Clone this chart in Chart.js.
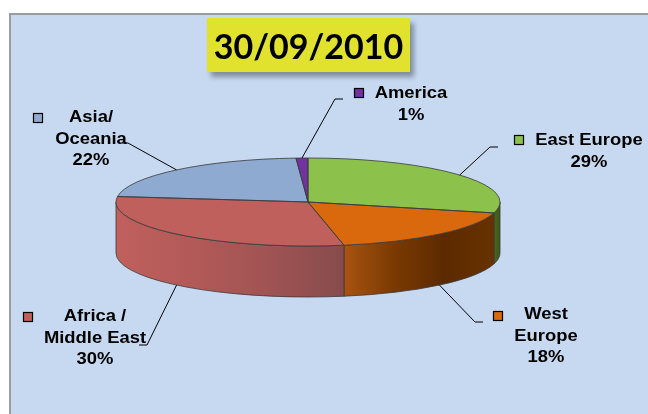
<!DOCTYPE html>
<html>
<head>
<meta charset="utf-8">
<title>30/09/2010</title>
<script src="https://cdn.jsdelivr.net/npm/chart.js@4"></script>
<style>
  body { margin: 0; background: #fff; }
  #wrap { position: relative; width: 648px; height: 414px; overflow: hidden; }
  #panel {
    position: absolute; left: 9px; top: 13px; right: -4px; bottom: -4px;
    background: #c6d9f1; border-left: 2px solid #9c9c9c; border-top: 2px solid #9c9c9c;
  }
  #title {
    position: absolute; left: 207px; top: 18px; width: 203px; height: 54px; z-index: 2;
    background: #e0e22e; box-shadow: 4px 5px 5px rgba(0, 0, 0, .35);
    font: bold 34px Lato, sans-serif; color: #000;
    display: flex; align-items: center; justify-content: center;
  }
  #box { position: absolute; left: 0; top: 0; width: 648px; height: 414px; z-index: 1; }
</style>
</head>
<body>
<div id="wrap">
  <div id="panel"></div>
  <div id="title">30/09/2010</div>
  <div id="box"><canvas id="chart"></canvas></div>
</div>
<script>
// data
const categories = ['East Europe', 'West\nEurope', 'Africa /\nMiddle East', 'Asia/\nOceania', 'America'];
const shares = [29, 18, 30, 22, 1];

// styles
const topColors = ['#8cc24c', '#d9690c', '#c0605d', '#8eaad0', '#7232a0'];
const wallShades = [
    ['#4a6520', '#3f5618'],
    ['#a95310', '#7a3a02', '#5c2a00', '#683200'],
    ['#c0605d', '#b25a58', '#a05453', '#874b4d'],
    ['#6f88ab', '#5b7393'],
    ['#55227a', '#481c68']
];
const TILT = 44 / 192;
const DEPTH = 51;

// label boxes (text centre, key square, leader elbow + end)
const labelSpots = [
    { x: 589, y: 141, key: [519, 140], elbow: [490, 147], end: [498, 147] },
    { x: 546, y: 315, key: [498, 316], elbow: [475, 322], end: [483, 322] },
    { x: 95, y: 317, key: [28, 317], elbow: [147, 345], end: [139, 345] },
    { x: 91, y: 118, key: [38, 118], elbow: [128, 143], end: [122, 143] },
    { x: 411, y: 94, key: [359, 93], elbow: [335, 99], end: [343, 99] }
];

const pie3d = {
    id: 'pie3d',
    beforeDatasetsDraw(chart) {
        const ctx = chart.ctx;
        const arcs = chart.getDatasetMeta(0).data;
        const { x, y, outerRadius: r } = arcs[0];
        const ry = r * TILT;

        // side walls of the front half
        arcs.forEach((arc, i) => {
            const lo = Math.max(arc.startAngle, 0);
            const hi = Math.min(arc.endAngle, Math.PI);
            if (hi <= lo) return;
            const xl = x + r * Math.cos(hi), xr = x + r * Math.cos(lo);
            const g = ctx.createLinearGradient(xl, 0, xr, 0);
            const stops = wallShades[i];
            stops.forEach((c, k) => g.addColorStop(k / (stops.length - 1), c));
            ctx.beginPath();
            ctx.ellipse(x, y, r, ry, 0, lo, hi);
            ctx.ellipse(x, y + DEPTH, r, ry, 0, hi, lo, true);
            ctx.closePath();
            ctx.fillStyle = g;
            ctx.fill();
            ctx.strokeStyle = '#3a3a3a';
            ctx.lineWidth = 0.8;
            ctx.stroke();
        });

        // squash the top face
        ctx.save();
        ctx.translate(x, y);
        ctx.scale(1, TILT);
        ctx.translate(-x, -y);
    },
    afterDatasetsDraw(chart) {
        const ctx = chart.ctx;
        ctx.restore();
        const arcs = chart.getDatasetMeta(0).data;
        const { x, y, outerRadius: r } = arcs[0];
        const ry = r * TILT;
        ctx.save();
        ctx.strokeStyle = '#3a3a3a';
        ctx.lineWidth = 0.8;
        arcs.forEach(arc => {
            ctx.beginPath();
            ctx.moveTo(x, y);
            ctx.ellipse(x, y, r, ry, 0, arc.startAngle, arc.endAngle);
            ctx.closePath();
            ctx.stroke();
        });
        ctx.restore();
    },
    afterDraw(chart) {
        const ctx = chart.ctx;
        const arcs = chart.getDatasetMeta(0).data;
        const { x, y, outerRadius: r } = arcs[0];
        const ry = r * TILT;
        const total = shares.reduce((a, b) => a + b, 0);
        ctx.save();
        arcs.forEach((arc, i) => {
            const spot = labelSpots[i];
            const mid = (arc.startAngle + arc.endAngle) / 2;
            const ax = x + r * Math.cos(mid);
            const ay = y + ry * Math.sin(mid) + (Math.sin(mid) > 0 ? DEPTH : 0);

            ctx.strokeStyle = '#000';
            ctx.lineWidth = 1;
            ctx.beginPath();
            ctx.moveTo(ax, ay);
            ctx.lineTo(spot.elbow[0], spot.elbow[1]);
            ctx.lineTo(spot.end[0], spot.end[1]);
            ctx.stroke();

            ctx.fillStyle = topColors[i];
            ctx.fillRect(spot.key[0] - 4.5, spot.key[1] - 4.5, 9, 9);
            ctx.lineWidth = 1.2;
            ctx.strokeRect(spot.key[0] - 4.5, spot.key[1] - 4.5, 9, 9);

            const lines = categories[i].split('\n').concat(Math.round(shares[i] / total * 100) + '%');
            ctx.fillStyle = '#000';
            ctx.font = 'bold 16px "Liberation Sans", Arial, sans-serif';
            ctx.textAlign = 'center';
            ctx.textBaseline = 'middle';
            lines.forEach((line, j) => {
                ctx.save();
                ctx.translate(spot.x, spot.y + j * 21.5);
                ctx.scale(1.15, 1);
                ctx.fillText(line, 0, 0);
                ctx.restore();
            });
        });
        ctx.restore();
    }
};

new Chart(document.getElementById('chart'), {
    type: 'pie',
    data: {
        labels: categories.map(c => c.replace('\n', ' ')),
        datasets: [{
            data: shares,
            backgroundColor: topColors,
            borderWidth: 0,
            clip: false
        }]
    },
    options: {
        responsive: true,
        maintainAspectRatio: false,
        animation: false,
        events: [],
        rotation: 0,
        layout: { padding: { left: 116, right: 148, top: 10, bottom: 20 } },
        plugins: {
            legend: { display: false },
            tooltip: { enabled: false }
        }
    },
    plugins: [pie3d]
});
</script>
</body>
</html>
